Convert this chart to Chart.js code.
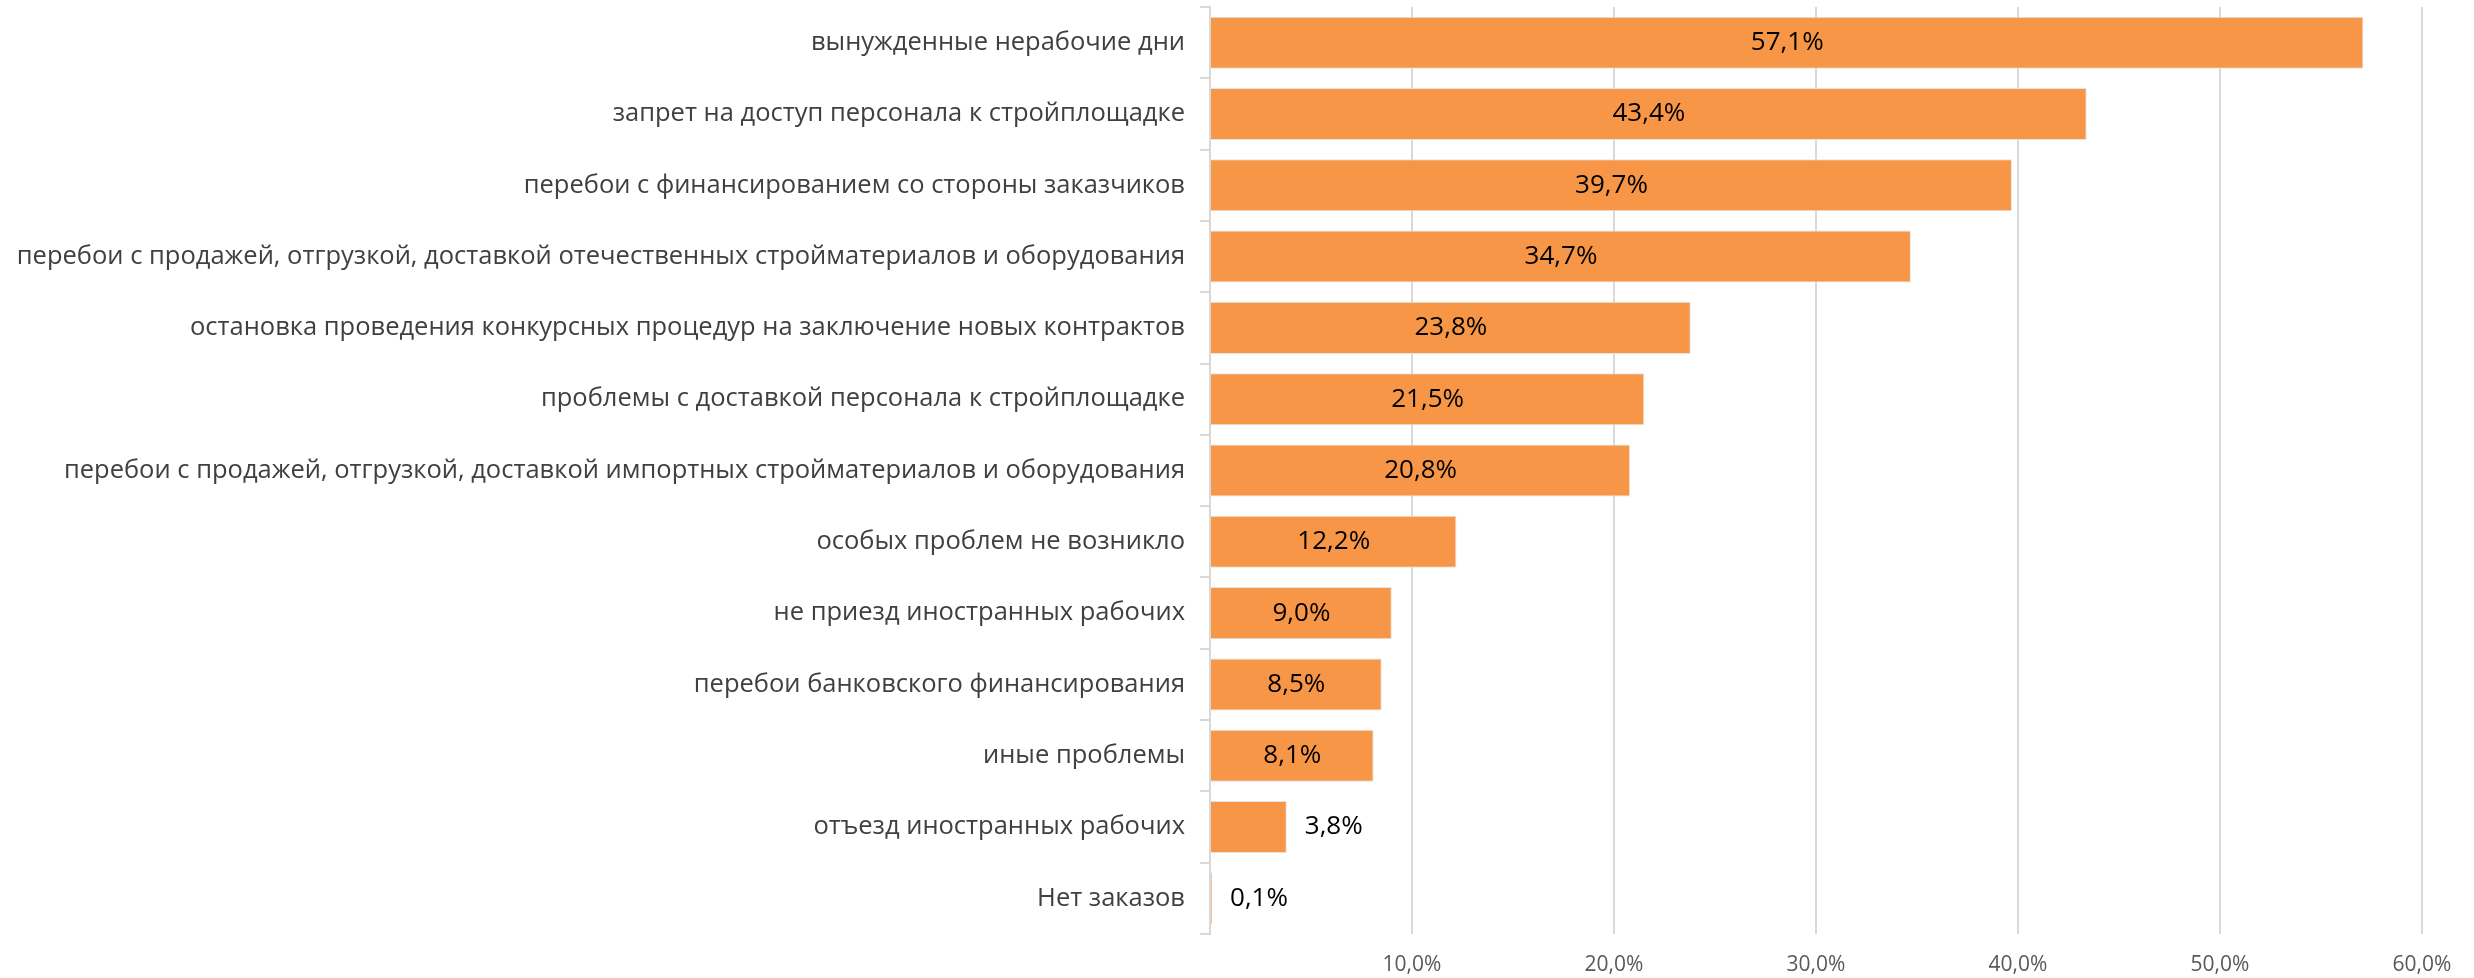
<!DOCTYPE html>
<html>
<head>
<meta charset="utf-8">
<script src="https://cdn.jsdelivr.net/npm/chart.js@4"></script>
<style>
  html, body { margin: 0; padding: 0; background: #fff; }
  #wrap { width: 2474px; height: 978px; }
</style>
</head>
<body>
<div id="wrap"><canvas id="myChart" width="2474" height="978"></canvas></div>
<script>
const categories = [
  "вынужденные нерабочие дни",
  "запрет на доступ персонала к стройплощадке",
  "перебои с финансированием со стороны заказчиков",
  "перебои с продажей, отгрузкой, доставкой отечественных стройматериалов и оборудования",
  "остановка проведения конкурсных процедур на заключение новых контрактов",
  "проблемы с доставкой персонала к стройплощадке",
  "перебои с продажей, отгрузкой, доставкой импортных стройматериалов и оборудования",
  "особых проблем не возникло",
  "не приезд иностранных рабочих",
  "перебои банковского финансирования",
  "иные проблемы",
  "отъезд иностранных рабочих",
  "Нет заказов",
];
const shares = [57.1, 43.4, 39.7, 34.7, 23.8, 21.5, 20.8, 12.2, 9.0, 8.5, 8.1, 3.8, 0.1];
const tickValues = [10, 20, 30, 40, 50, 60];

const FONT = "'Open Sans', sans-serif";
const fmt = (v) => v.toFixed(1).replace(".", ",") + "%";

// value labels: centered in the bar, or just past its end if it does not fit
const valueLabels = {
  id: "valueLabels",
  afterDatasetsDraw(chart) {
    const ctx = chart.ctx;
    const meta = chart.getDatasetMeta(0);
    ctx.save();
    ctx.font = "26px " + FONT;
    ctx.fillStyle = "#000";
    ctx.textBaseline = "middle";
    meta.data.forEach((bar, i) => {
      const text = fmt(shares[i]);
      const w = ctx.measureText(text).width;
      const barW = bar.x - bar.base;
      if (barW > w + 20) {
        ctx.textAlign = "center";
        ctx.fillText(text, bar.base + barW / 2, bar.y);
      } else {
        ctx.textAlign = "left";
        ctx.fillText(text, bar.x + 18, bar.y);
      }
    });
    ctx.restore();
  },
};

const data = {
  labels: categories,
  datasets: [
    {
      data: shares,
      backgroundColor: "#F79646",
      borderColor: "#E4E4E4",
      borderWidth: 1,
      categoryPercentage: 1,
      barPercentage: 0.73,
    },
  ],
};

const configChart = {
  type: "bar",
  data: data,
  plugins: [valueLabels],
  options: {
    indexAxis: "y",
    responsive: false,
    animation: false,
    layout: { padding: { top: 7, right: 52, bottom: 0, left: 0 } },
    plugins: {
      legend: { display: false },
      tooltip: { enabled: false },
    },
    scales: {
      x: {
        min: 0,
        max: 60,
        afterBuildTicks: (scale) => {
          scale.ticks = [0].concat(tickValues).map((v) => ({ value: v }));
        },
        afterFit: (scale) => {
          scale.height = 44;
        },
        border: { display: false },
        grid: { color: "#D9D9D9", lineWidth: 2, drawTicks: false },
        ticks: {
          padding: 18,
          color: "#595959",
          font: { family: FONT, size: 21 },
          callback: (v) => (v === 0 ? "" : fmt(v)),
        },
      },
      y: {
        afterFit: (scale) => {
          scale.width = 1210;
          scale.paddingTop = 0;
          scale.paddingBottom = 0;
        },
        border: { display: true, color: "#D9D9D9", width: 2 },
        grid: {
          offset: true,
          drawOnChartArea: false,
          color: "#D9D9D9",
          lineWidth: 2,
          tickLength: 10,
        },
        ticks: {
          padding: 15,
          color: "#404040",
          autoSkip: false,
          font: { family: FONT, size: 25.5 },
        },
      },
    },
  },
};

const myChart = new Chart(document.querySelector("#myChart"), configChart);
</script>
</body>
</html>
